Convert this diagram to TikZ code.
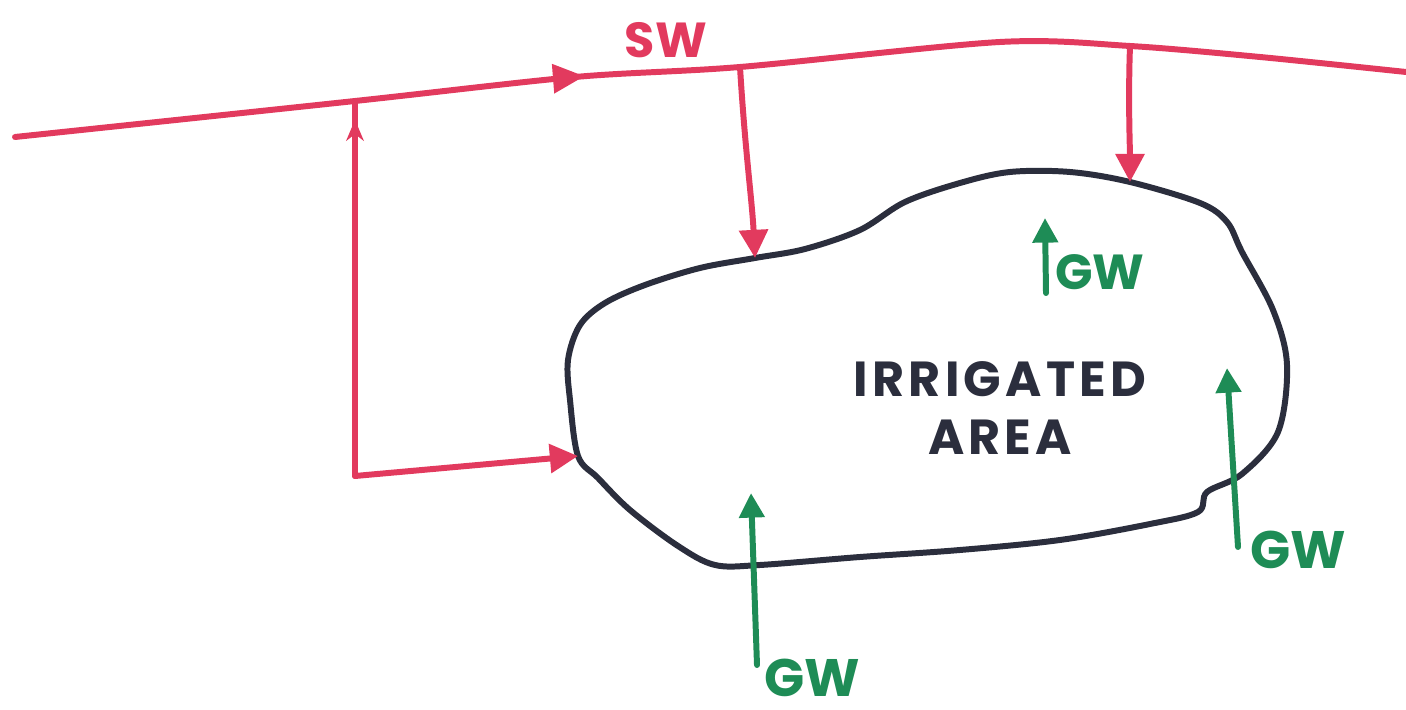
\documentclass[tikz,border=0pt]{standalone}
\usepackage{fontspec}
\setmainfont{Poppins}
\usetikzlibrary{arrows.meta,decorations.markings}
\definecolor{swred}{HTML}{E23A5E}
\definecolor{gwgreen}{HTML}{1E8C56}
\definecolor{ink}{HTML}{2B2E3D}
\newcommand{\lsp}{\kern1.2pt}
\begin{document}
\begin{tikzpicture}[x=0.01cm,y=-0.01cm, line cap=round, line join=round,
  swline/.style={draw=swred, line width=1.7pt},
  swarrow/.style={swline, -{Triangle[length=8pt,width=8pt]}},
  gwarrow/.style={draw=gwgreen, line width=1.7pt, -{Triangle[length=7pt,width=7pt]}},
  blob/.style={draw=ink, line width=1.7pt},
  lbl/.style={font=\fontsize{14}{14}\selectfont\bfseries, inner sep=0pt},
  biglbl/.style={font=\fontsize{15}{15}\selectfont\bfseries, inner sep=0pt}
]
\path[use as bounding box] (0,0) rectangle (1406,710);

% coordinates on the SW line
\coordinate (sw0) at (15,137);
\coordinate (swA) at (355,101);
\coordinate (swB) at (740,67);
\coordinate (swC) at (1130,46);
\coordinate (sw1) at (1406,72);

% SW line with mid arrow
\draw[swline, postaction={decorate}, decoration={markings, mark=at position 0.41 with {\arrow{Triangle[length=9pt,width=8pt]}}}]
  plot[smooth, tension=0.5] coordinates {(sw0) (swA) (575,77) (swB) (1000,42) (swC) (1260,57) (sw1)};
\node[lbl, text=swred] (sw) at (666,40) {SW};

% points on the irrigated-area outline
\coordinate (b1) at (755,258);
\coordinate (b2) at (1130,182);
\coordinate (b3) at (578,456);

% irrigated area outline
\draw[blob] plot[smooth cycle, tension=0.55] coordinates {
  (b1) (805,249) (860,230) (905,202) (960,183) (1010,172) (1070,172) (b2)
  (1200,203) (1227,222) (1242,252) (1273,310) (1287,365) (1278,432) (1242,474)
  (1207,492) (1198,512) (1150,524) (1060,540) (960,550) (860,557) (760,565)
  (715,565) (678,546) (630,510) (598,478) (b3) (570,400) (568,360) (580,325)
  (605,303) (645,285) (700,268)};
\node[font=\fontsize{14}{14}\selectfont\bfseries, text=ink, align=center, inner sep=0pt] (area) at (1000,408)
  {I\lsp R\lsp R\lsp I\lsp G\lsp A\lsp T\lsp E\lsp D\\[2.5pt]A\lsp R\lsp E\lsp A};

% SW branches
\coordinate (corner) at (355,476);
\draw[swline, postaction={decorate}, decoration={markings, mark=at position 0.95 with {\arrow{Stealth[length=6pt,width=5pt]}}}]
  (corner) -- (swA);
\draw[swarrow] (corner) -- (b3);
\draw[swarrow] (swB) .. controls (745,150) and (752,200) .. (b1);
\draw[swarrow] (swC) .. controls (1128,100) and (1130,150) .. (b2);

% GW arrows
\coordinate (g1s) at (1046,293);
\coordinate (g1e) at (1045,218);
\draw[gwarrow] (g1s) -- (g1e);
\node[lbl, text=gwgreen] (gw1) at (1100,272) {GW};

\coordinate (g2s) at (1238,547);
\coordinate (g2e) at (1227,368);
\draw[gwarrow] (g2s) -- (g2e);
\node[biglbl, text=gwgreen] (gw2) at (1298,550) {GW};

\coordinate (g3s) at (757,665);
\coordinate (g3e) at (751,493);
\draw[gwarrow] (g3s) -- (g3e);
\node[biglbl, text=gwgreen] (gw3) at (812,678) {GW};
\end{tikzpicture}
\end{document}
